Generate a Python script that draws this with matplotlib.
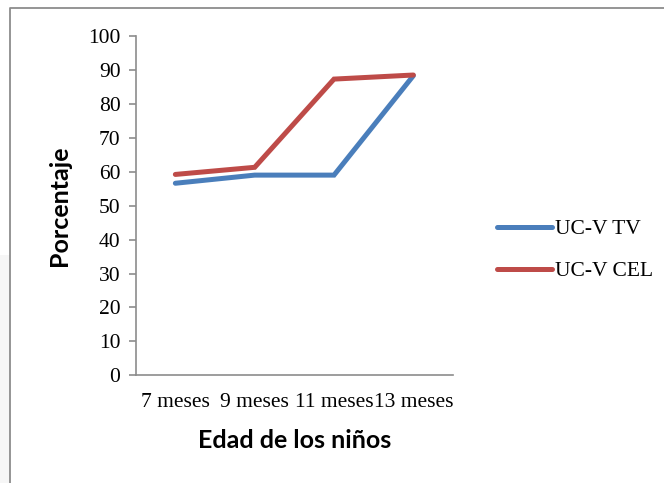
import matplotlib
matplotlib.use("Agg")
import matplotlib.pyplot as plt
from matplotlib.lines import Line2D
from matplotlib.patches import Rectangle

categories = ["7 meses", "9 meses", "11 meses", "13 meses"]
tv_values = [56.6, 59.0, 59.0, 88.3]
cel_values = [59.2, 61.3, 87.3, 88.5]
series_names = ["UC-V TV", "UC-V CEL"]
yticks = list(range(0, 101, 10))

W, H = 664, 483
fig = plt.figure(figsize=(W / 100, H / 100), dpi=100)
fig.patch.set_facecolor("white")

# outer frame (left & top visible)
fig.add_artist(Rectangle((0, 0), 10 / W, 1 - 255 / H, transform=fig.transFigure,
                         facecolor="#f6f6f6", edgecolor="none", zorder=0))
fig.add_artist(Line2D([10 / W, 10 / W, 1], [0, 1 - 8 / H, 1 - 8 / H],
                      transform=fig.transFigure, color="#8c8c8c", lw=1.3))

ax = fig.add_axes([135.7 / W, 1 - 375.3 / H, (453 - 135.7) / W, (375.3 - 36) / H])
x = list(range(len(categories)))
blue = "#4A7EBB"
red = "#BE4B48"
l1, = ax.plot(x, tv_values, color=blue, lw=3.6, solid_capstyle="round",
              solid_joinstyle="miter", label=series_names[0])
l2, = ax.plot(x, cel_values, color=red, lw=3.6, solid_capstyle="round",
              solid_joinstyle="miter", label=series_names[1])

ax.set_xlim(-0.5, 3.5)
ax.set_ylim(0, 100)
ax.set_yticks(yticks)
ax.set_xticks(x)
ax.set_xticklabels(categories)

serif = "Liberation Serif"
for lab in ax.get_yticklabels() + ax.get_xticklabels():
    lab.set_fontfamily(serif)
    lab.set_fontsize(15.5)
    lab.set_color("black")

for s in ["top", "right"]:
    ax.spines[s].set_visible(False)
for s in ["left", "bottom"]:
    ax.spines[s].set_color("#8c8c8c")
    ax.spines[s].set_linewidth(1.2)
ax.tick_params(axis="y", direction="out", length=5, width=1.2, color="#8c8c8c", pad=6)
ax.tick_params(axis="x", length=0, pad=13)

ax.set_ylabel("Porcentaje", fontfamily="Lato", fontweight="bold", fontsize=18, labelpad=12)
ax.set_xlabel("Edad de los niños", fontfamily="Lato", fontweight="bold", fontsize=18, labelpad=12)

leg = fig.legend(handles=[l1, l2], loc="upper left",
                 bbox_to_anchor=(478 / W, 1 - 200 / H), frameon=False,
                 prop={"family": serif, "size": 15.5}, handlelength=2.55,
                 handletextpad=0.12, labelspacing=1.0)

fig.savefig("out.png", dpi=100)
